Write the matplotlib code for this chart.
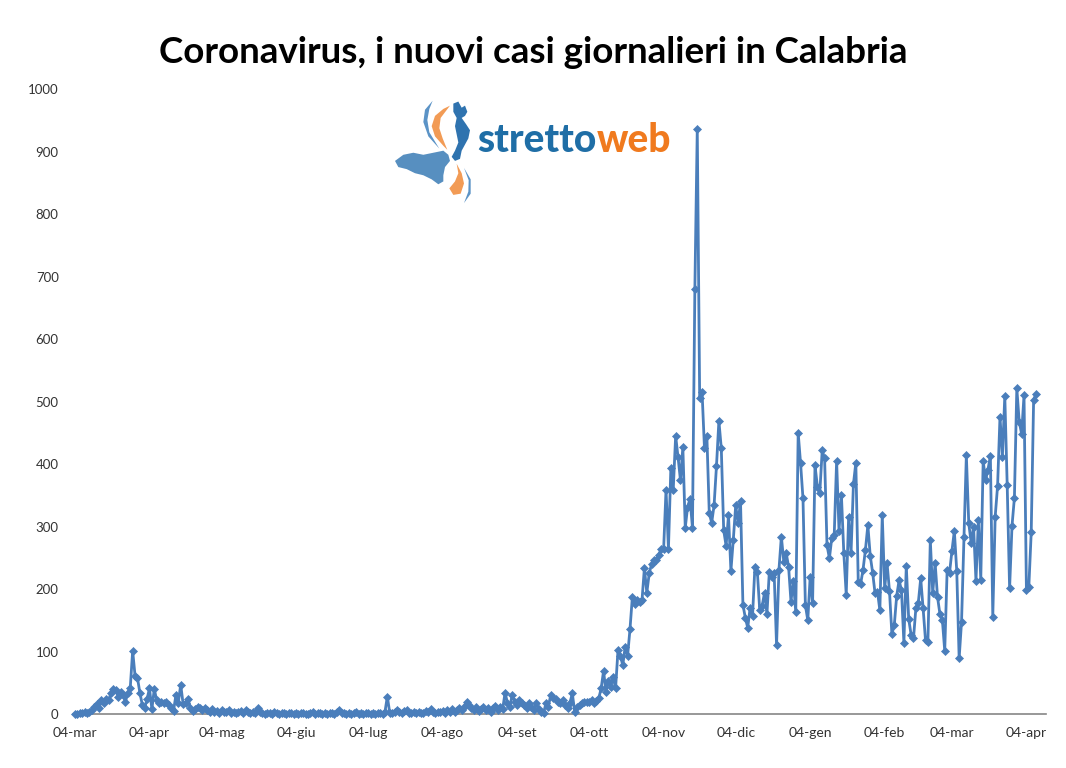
import matplotlib
matplotlib.use("Agg")
import matplotlib.pyplot as plt
from matplotlib.patches import Polygon
import pandas as pd

# nuovi casi giornalieri, dal 04-mar-2020 in poi (un valore al giorno)
casi_mar_apr = [0, 0, 2, 1, 3, 2, 4, 6, 12, 16, 10, 22, 18, 24, 22, 34, 40, 38,
                28, 36, 30, 20, 33, 42, 101, 61, 58, 34, 15, 10, 24, 41, 8, 40,
                22, 18, 20, 18, 20, 15, 10, 5, 30, 18, 47, 16, 18, 24, 10, 5]
casi_apr_mag = [8, 12, 9, 7, 10, 6, 4, 8, 3, 5, 2, 6, 4, 3, 7, 2, 4, 1, 3, 5,
                2, 6, 3, 1, 4, 2, 9, 3]
casi_mag_ago = [1, 0, 2, 1, 0, 3, 1, 0, 2, 1, 0, 1, 2,
                0, 1, 0, 2, 1, 0, 0, 1, 3, 0, 1, 2, 0, 1, 0, 2, 1, 0,
                4, 6, 2,
                1, 0, 2, 0, 1, 3, 0, 1, 0, 2, 1, 0, 1, 0, 2, 1, 0, 3,
                28,
                2, 1, 4, 6, 3, 2, 5, 7, 2, 1, 3, 2, 4, 1, 2, 5, 3, 8, 4, 2, 3]
casi_ago_ott = [3, 5, 2, 6, 4, 8, 3, 6, 10, 7, 12, 20,
                14, 9, 6, 11, 5, 8, 12, 7, 10, 4, 9, 13, 6, 11, 8, 34,
                18, 12, 31, 20, 14, 22, 17, 14, 9, 18, 12, 6, 17, 8, 3, 1,
                17, 12, 30, 26, 24, 20, 17, 22, 14, 9, 18, 33, 3, 12, 14, 18,
                20, 19, 20, 22, 18, 21, 25, 41]
casi_ott_nov = [69, 35, 53, 44, 59, 41, 102, 93, 78, 108, 93, 136, 188, 176,
                182, 179, 182, 234, 194, 225, 240, 246, 246, 255, 264, 264,
                359, 264, 393, 359, 445, 411, 374, 427, 298, 332, 344, 298,
                680, 936, 506, 515]
casi_nov_gen = [425, 445, 321, 306, 334, 397, 469, 425, 294, 269, 318, 229,
                279, 334, 305, 341, 175, 154, 138, 170, 157, 236, 228, 166,
                173, 194, 160, 228, 220, 225, 110, 231, 284, 244, 258, 236,
                180, 213, 163, 450, 401, 345, 174, 150, 220, 177, 398, 364,
                354, 422, 409, 270, 249, 282, 286, 405, 293, 350, 257, 191,
                315, 257, 368, 402, 212, 208]
casi_gen_mar = [231, 263, 302, 253, 226, 193, 196, 166, 318, 201, 241, 197,
                128, 142, 189, 214, 198, 114, 237, 152, 127, 121, 170, 178,
                217, 169, 118, 116, 278, 193, 242, 187, 160, 151, 101, 230,
                226, 261, 293, 229, 89]
casi_mar_apr21 = [148, 284, 414, 305, 274, 300, 213, 310, 215, 405, 374, 391,
                  413, 156, 316, 365, 476, 412, 509, 366, 201, 301, 346, 521,
                  468, 448, 510, 198, 203, 291, 503, 512]

casi = (casi_mar_apr + casi_apr_mag + casi_mag_ago + casi_ago_ott +
        casi_ott_nov + casi_nov_gen + casi_gen_mar + casi_mar_apr21)
giorni = pd.date_range("2020-03-04", periods=len(casi), freq="D")

mesi = ["mar", "apr", "mag", "giu", "lug", "ago", "set", "ott", "nov", "dic",
        "gen", "feb", "mar", "apr"]
tick_date = pd.date_range("2020-03-01", periods=len(mesi), freq="MS") + pd.Timedelta(days=3)
tick_labels = ["04-" + m for m in mesi]

blu = "#4A7EBB"

fig = plt.figure(figsize=(10.66, 7.68), dpi=100)
ax = fig.add_axes([0.0681, 0.0703, 0.9128, 0.8138])

ax.plot(giorni, casi, color=blu, linewidth=2, marker="D", markersize=4,
        markeredgewidth=0.5, clip_on=False, zorder=3)

ax.set_ylim(0, 1000)
ax.set_yticks(range(0, 1001, 100))
ax.set_xticks(tick_date)
ax.set_xticklabels(tick_labels)
ax.set_xlim(giorni[0] - pd.Timedelta(days=1), giorni[0] + pd.Timedelta(days=404))

for s in ["top", "right", "left"]:
    ax.spines[s].set_visible(False)
ax.spines["bottom"].set_color("#868686")
ax.spines["bottom"].set_linewidth(1.2)
ax.tick_params(axis="both", length=0, labelsize=9.5, labelcolor="#333333",
               labelfontfamily="Lato")
ax.tick_params(axis="x", pad=9, labelsize=10)
ax.tick_params(axis="y", pad=10)

fig.text(0.5, 0.931, "Coronavirus, i nuovi casi giornalieri in Calabria",
         ha="center", va="center", fontsize=26.5, fontweight="bold",
         family="Lato", color="black")

# logo strettoweb
t1 = fig.text(0.448, 0.817, "stretto", ha="left", va="center", fontsize=28,
              fontweight="black", family="Lato", color="#1F6EA6")
fig.canvas.draw()
bb = t1.get_window_extent()
fig.text(bb.x1 / fig.bbox.width, 0.817, "web", ha="left", va="center",
         fontsize=28, fontweight="black", family="Lato", color="#F07A1E")

# icona del logo
lg = fig.add_axes([390 / 1066, (768 - 190) / 768, 90 / 1066, 95 / 768])
lg.set_xlim(0, 270)
lg.set_ylim(236, 4)
lg.axis("off")
sicilia = [(15, 165), (40, 150), (70, 145), (100, 150), (130, 145), (160, 140),
           (175, 150), (180, 165), (165, 180), (160, 200), (160, 215),
           (145, 222), (125, 210), (100, 200), (75, 195), (50, 185), (25, 180)]
calabria = [(190, 25), (205, 20), (215, 35), (225, 30), (232, 45), (225, 55),
            (215, 60), (228, 75), (240, 90), (235, 110), (225, 125), (215, 140),
            (210, 160), (195, 165), (185, 155), (195, 140), (205, 120),
            (200, 100), (195, 80), (200, 60), (190, 45)]
arancio_su = [(180, 30), (160, 38), (135, 55), (125, 80), (135, 105),
              (160, 128), (172, 138), (158, 110), (148, 85), (152, 60)]
blu_su = [(128, 18), (105, 40), (100, 70), (115, 105), (148, 135), (118, 95),
          (112, 65), (118, 38)]
arancio_giu = [(200, 172), (215, 195), (222, 220), (212, 245), (190, 248),
               (178, 232), (195, 215), (205, 195)]
blu_giu = [(222, 182), (242, 210), (242, 245), (222, 268), (235, 240),
           (236, 212)]
lg.add_patch(Polygon(sicilia, closed=True, color="#3A7BB5", alpha=0.85, lw=0,
                     clip_on=False))
lg.add_patch(Polygon(calabria, closed=True, color="#2F73AF", lw=0, clip_on=False))
lg.add_patch(Polygon(blu_su, closed=True, color="#5B93C6", lw=0, clip_on=False))
lg.add_patch(Polygon(arancio_su, closed=True, color="#F29B55", lw=0,
                     clip_on=False))
lg.add_patch(Polygon(arancio_giu, closed=True, color="#F29B55", lw=0,
                     clip_on=False))
lg.add_patch(Polygon(blu_giu, closed=True, color="#5B93C6", lw=0, clip_on=False))

fig.savefig("out.png", dpi=100)
